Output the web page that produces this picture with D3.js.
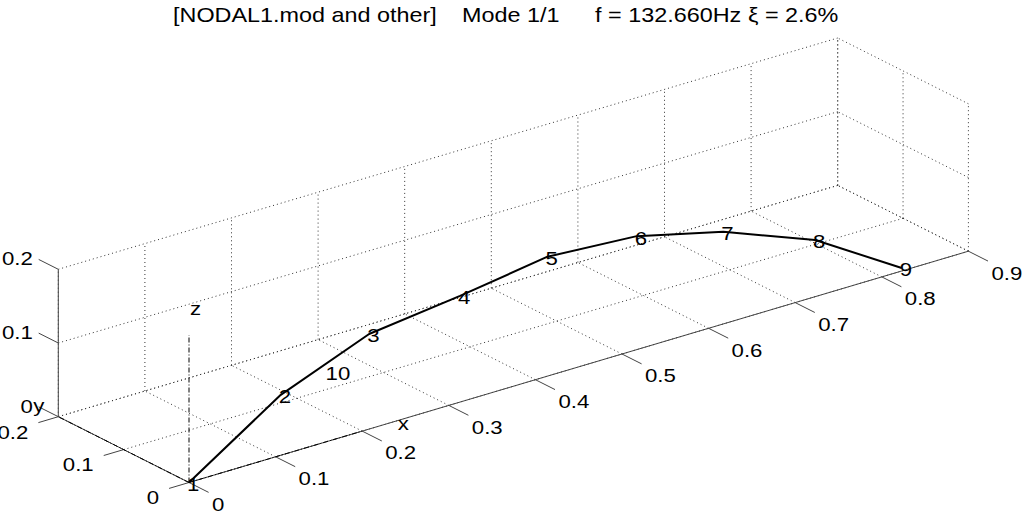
<!DOCTYPE html>
<html><head><meta charset="utf-8">
<script src="https://cdn.jsdelivr.net/npm/d3@7"></script>
<style>body{margin:0;background:#fff}svg{display:block}text{font-family:"Liberation Sans",Arial,Helvetica,sans-serif;fill:#000}</style>
</head><body>
<script>
// ---- data ----
const nodeIds = [1, 2, 3, 4, 5, 6, 7, 8, 9, 10];
const nodeX = [0, 0.106, 0.208, 0.313, 0.414, 0.517, 0.617, 0.723, 0.823, 0.160];
const nodeY = [0, 0, 0, 0, 0, 0, 0, 0, 0, 0];
const nodeZ = [0, 0.082, 0.129, 0.144, 0.162, 0.154, 0.125, 0.077, 0.004, 0.095];
const lineNodes = [1, 2, 3, 4, 5, 6, 7, 8, 9];
const xTicks = [0, 0.1, 0.2, 0.3, 0.4, 0.5, 0.6, 0.7, 0.8, 0.9];
const yTicks = [0, 0.1, 0.2];
const zTicks = [0, 0.1, 0.2];
const xDomain = [0, 0.9], yDomain = [0, 0.2], zDomain = [0, 0.2];
const triadLen = 0.2;
const titleParts = ["[NODAL1.mod and other]", "Mode 1/1", "f = 132.660Hz", "\u03BE = 2.6%"];

// ---- projection ----
const W = 1029, H = 514;
const origin = [189, 482.5];
const X = [779.4, -231.3], Y = [-130.7, -65.8], Z = [0, -147.4];
const xs = d3.scaleLinear().domain(xDomain).range([0, 1]);
const ys = d3.scaleLinear().domain(yDomain).range([0, 1]);
const zs = d3.scaleLinear().domain(zDomain).range([0, 1]);
function P(x, y, z) {
  const a = xs(x), b = ys(y), c = zs(z);
  return [origin[0] + a * X[0] + b * Y[0] + c * Z[0], origin[1] + a * X[1] + b * Y[1] + c * Z[1]];
}
const SX = 1.17;
const svg = d3.select("body").append("svg").attr("width", W).attr("height", H);
const line = d3.line();

function txt(g, x, y, s, size, anchor, base) {
  return g.append("text")
    .attr("transform", `translate(${x},${y}) scale(${SX},1)`)
    .attr("text-anchor", anchor || "start")
    .attr("dominant-baseline", base || "central")
    .style("font-size", size + "px").text(s);
}

// ---- grid ----
const grid = svg.append("g").attr("fill", "none").attr("stroke", "#333").attr("stroke-width", 1).attr("stroke-dasharray", "1,3");
const [x0, x1] = xDomain, [y0, y1] = yDomain, [z0, z1] = zDomain;
const gl = [];
xTicks.forEach(x => { gl.push([P(x, y0, z0), P(x, y1, z0)]); gl.push([P(x, y1, z0), P(x, y1, z1)]); });
yTicks.forEach(y => { gl.push([P(x0, y, z0), P(x1, y, z0)]); gl.push([P(x1, y, z0), P(x1, y, z1)]); });
zTicks.forEach(z => { gl.push([P(x0, y1, z), P(x1, y1, z)]); gl.push([P(x1, y0, z), P(x1, y1, z)]); });
gl.forEach(s => grid.append("path").attr("d", line(s)));

// ---- axes ----
const ax = svg.append("g").attr("fill", "none").attr("stroke", "#444").attr("stroke-width", 1);
ax.append("path").attr("d", line([P(x0, y0, z0), P(x1, y0, z0)]));
ax.append("path").attr("d", line([P(x0, y0, z0), P(x0, y1, z0)]));
ax.append("path").attr("d", line([P(x0, y1, z0), P(x0, y1, z1)]));
const tl = svg.append("g");
xTicks.forEach(x => {
  ax.append("path").attr("d", line([P(x, y0, z0), P(x, y0 - 0.03, z0)]));
  const p = P(x, y0, z0);
  txt(tl, p[0] + 23, p[1] + 21.5, String(x), 19, "start");
});
yTicks.forEach(y => {
  ax.append("path").attr("d", line([P(x0, y, z0), P(x0 - 0.023, y, z0)]));
  const p = P(x0, y, z0);
  txt(tl, p[0] - 30, p[1] + 15, String(y), 19, "end");
});
zTicks.forEach(z => {
  ax.append("path").attr("d", line([P(x0, y1, z), P(x0, y1 + 0.03, z)]));
  const p = P(x0, y1, z);
  txt(tl, p[0] - 25.5, p[1] - 11, String(z), 19, "end");
});

// ---- triad ----
const tr = svg.append("g").attr("fill", "none").attr("stroke", "#000").attr("stroke-width", 1).attr("stroke-dasharray", "5,2,1,2");
tr.append("path").attr("d", line([P(0, 0, 0), P(triadLen, 0, 0)]));
tr.append("path").attr("d", line([P(0, 0, 0), P(0, triadLen, 0)]));
tr.append("path").attr("d", line([P(0, 0, 0), P(0, 0, triadLen)]));
[["x", P(1.2 * triadLen, 0, 0)], ["y", P(0, 1.2 * triadLen, 0)], ["z", P(0, 0, 1.2 * triadLen)]]
  .forEach(([s, p]) => txt(tl, p[0] + 1, p[1] + 2, s, 19, "start"));

// ---- mode shape ----
const idx = id => nodeIds.indexOf(id);
const pts = lineNodes.map(id => { const i = idx(id); return P(nodeX[i], nodeY[i], nodeZ[i]); });
svg.append("path").attr("d", line(pts)).attr("fill", "none").attr("stroke", "#000").attr("stroke-width", 2).attr("stroke-linejoin", "round");
nodeIds.forEach((id, i) => {
  const p = P(nodeX[i], nodeY[i], nodeZ[i]);
  txt(tl, p[0] - 2, p[1] + 1.5, String(id), 19, "start");
});

// ---- title ----
const titleX = [173, 462, 595, 748];
titleParts.forEach((s, i) => txt(svg, titleX[i], 22, s, 20, "start", "auto"));
</script>
</body></html>
